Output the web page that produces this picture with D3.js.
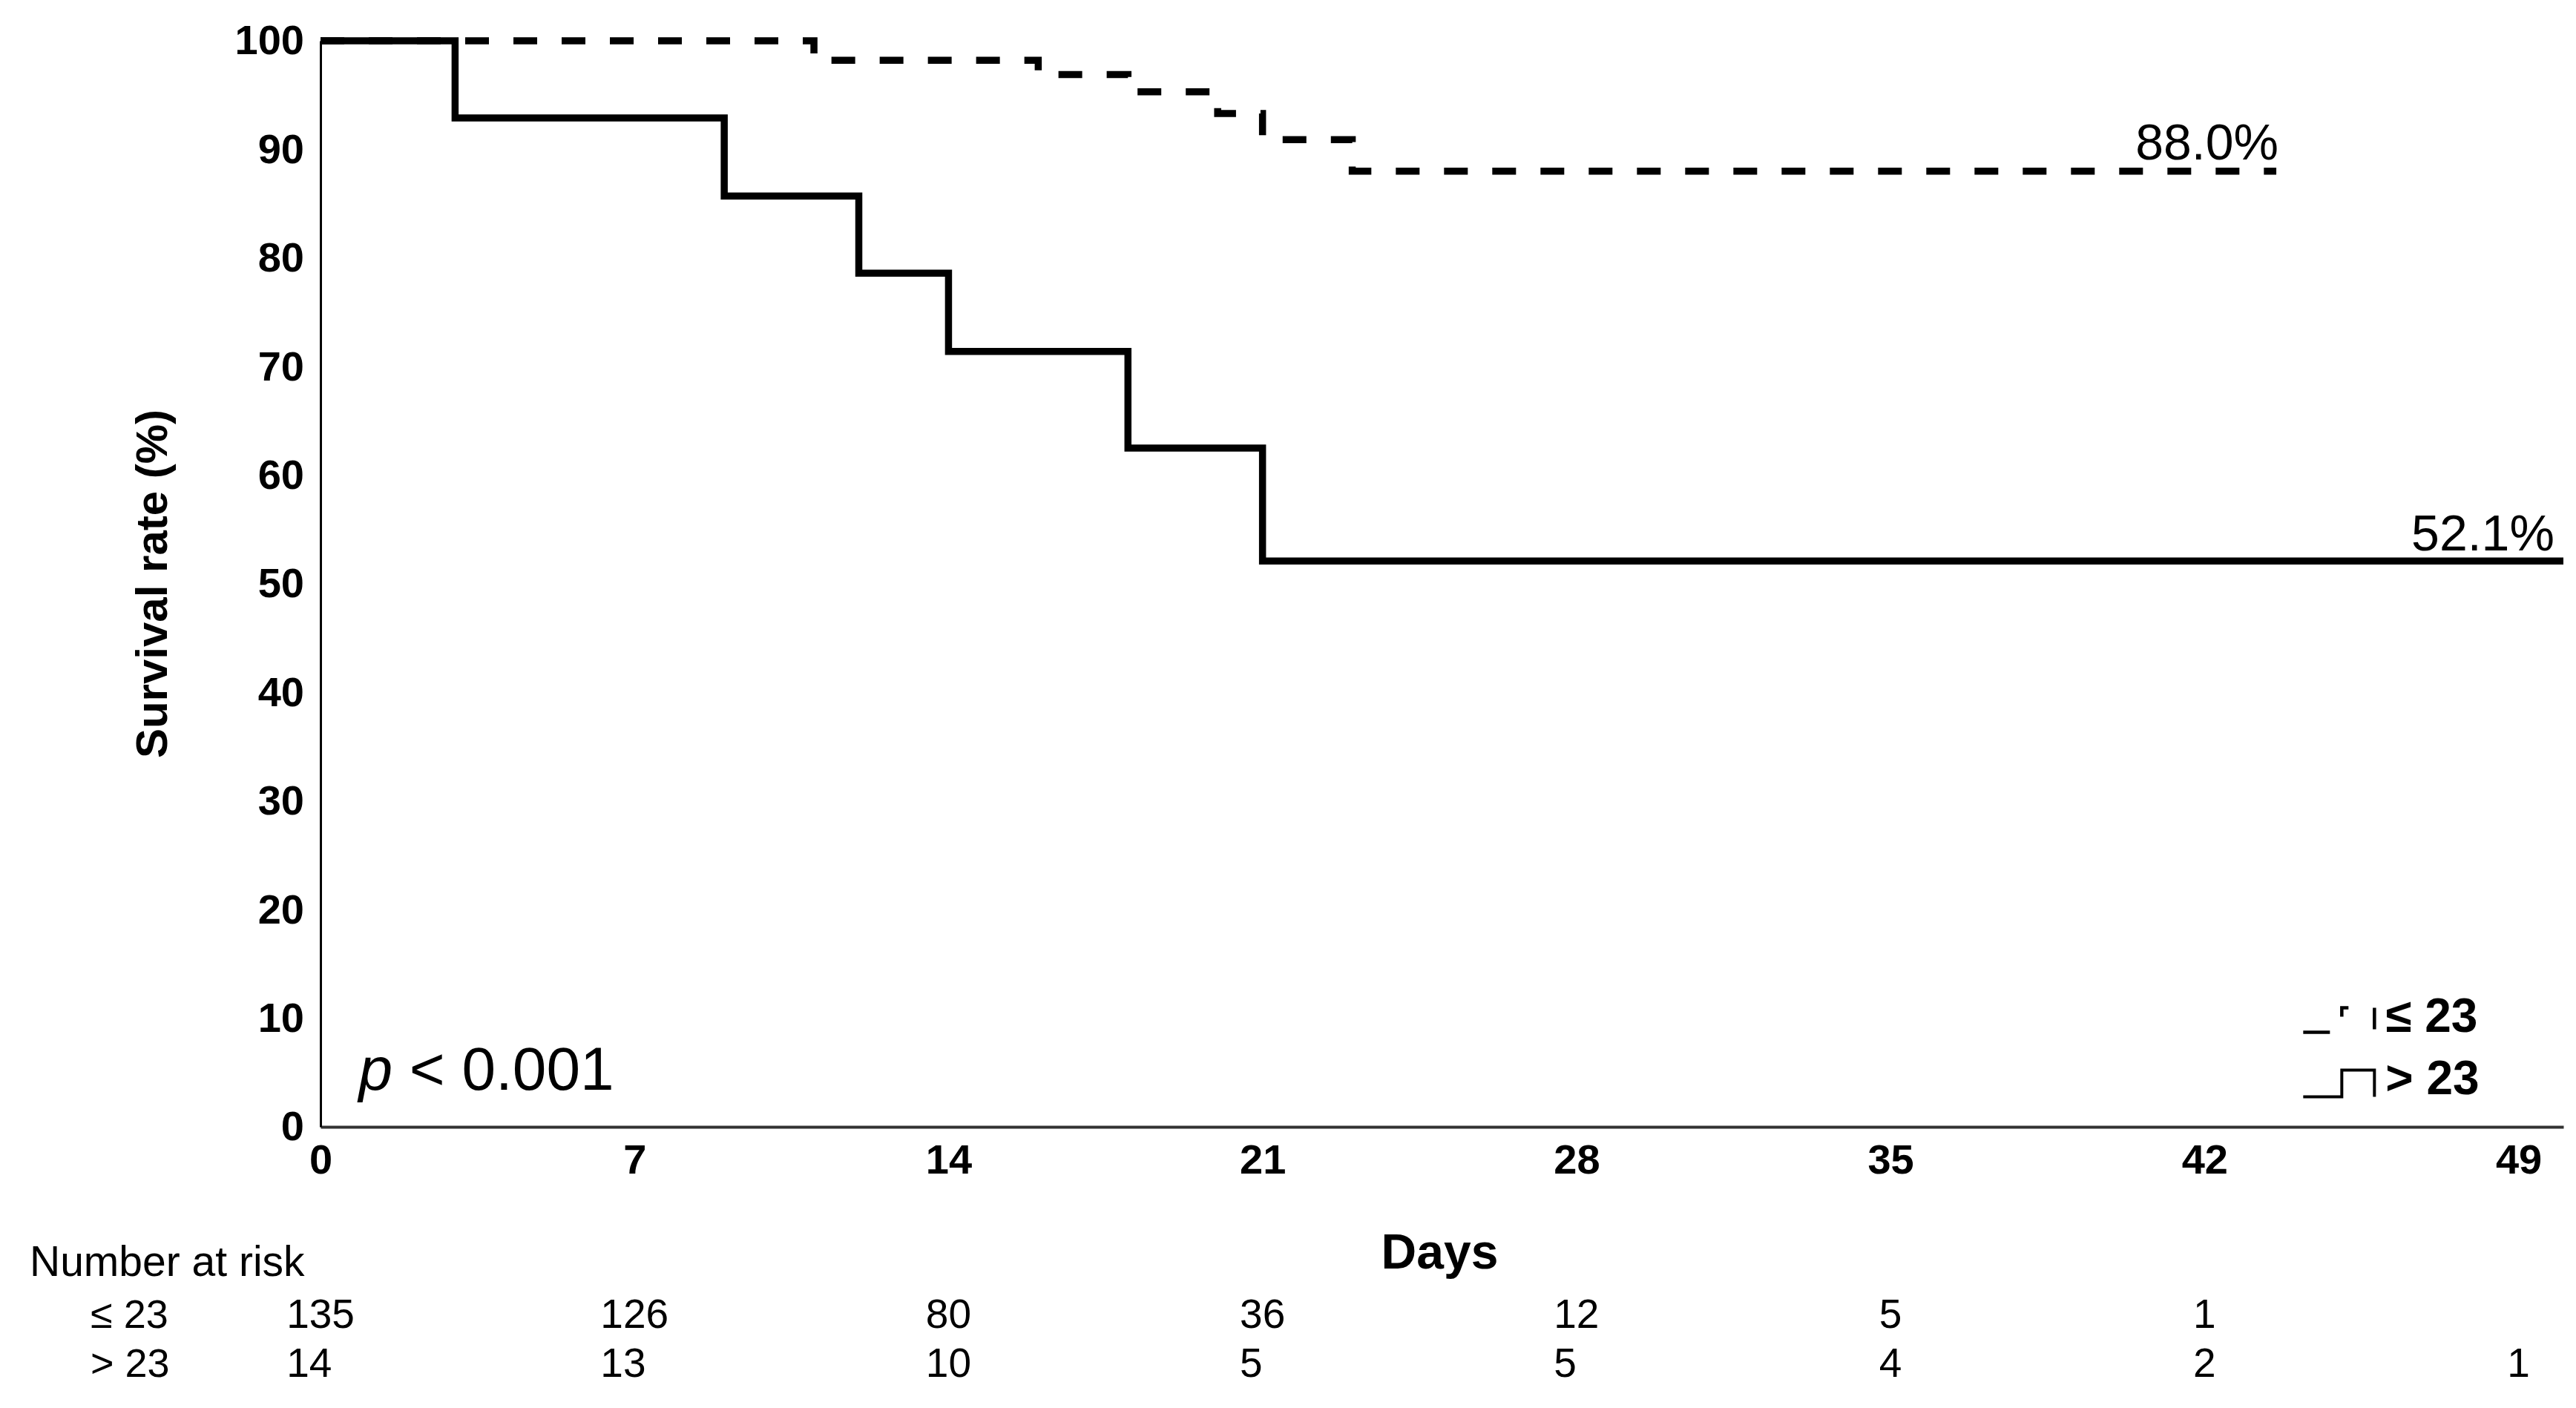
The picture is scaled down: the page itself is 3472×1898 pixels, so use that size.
<!DOCTYPE html>
<html>
<head>
<meta charset="utf-8">
<script src="https://cdn.jsdelivr.net/npm/d3@7"></script>
<style>
  body { margin: 0; background: #fff; }
  text { font-family: "Liberation Sans", Arial, sans-serif; fill: #000; }
</style>
</head>
<body>
<div id="chart"></div>
<script>
// Kaplan-Meier data
const dayTicks = [0, 7, 14, 21, 28, 35, 42, 49];
const rateTicks = [0, 10, 20, 30, 40, 50, 60, 70, 80, 90, 100];

const lowTimes = [0, 11, 16, 18, 20, 21, 23, 43.6];
const lowSurv = [100, 98.2, 96.9, 95.3, 93.3, 90.9, 88.0, 88.0];
const highTimes = [0, 3, 9, 12, 14, 18, 21, 50];
const highSurv = [100, 92.9, 85.7, 78.6, 71.4, 62.5, 52.1, 52.1];

const groupNames = ["\u2264 23", "> 23"];
const finalLabels = ["88.0%", "52.1%"];
const riskLow = [135, 126, 80, 36, 12, 5, 1, null];
const riskHigh = [14, 13, 10, 5, 5, 4, 2, 1];

const W = 3472, H = 1898;
const margin = { top: 55, right: 17, bottom: 379, left: 432 };
const width = W - margin.left - margin.right;
const height = H - margin.top - margin.bottom;

const svg = d3.select("#chart")
    .append("svg")
    .attr("width", W)
    .attr("height", H)
    .append("g")
    .attr("transform", `translate(${margin.left},${margin.top})`);

// scales
const x = d3.scaleLinear().domain([0, 50]).range([0, width]);
const y = d3.scaleLinear().domain([0, 100]).range([height, 0]);

// x axis
const xAxis = svg.append("g")
    .attr("transform", `translate(0,${height})`)
    .call(d3.axisBottom(x).tickValues(dayTicks).tickSize(0).tickSizeOuter(0).tickPadding(23));
xAxis.select(".domain").attr("stroke", "#333").attr("stroke-width", 4);
xAxis.selectAll("text")
    .style("font-size", "56px")
    .style("font-weight", "bold")
    .style("font-family", "'Liberation Sans', Arial, sans-serif");

// y axis
const yAxis = svg.append("g")
    .call(d3.axisLeft(y).tickValues(rateTicks).tickSize(0).tickSizeOuter(0).tickPadding(22));
yAxis.select(".domain").attr("stroke", "#000").attr("stroke-width", 3);
yAxis.selectAll("text")
    .style("font-size", "56px")
    .style("font-weight", "bold")
    .style("font-family", "'Liberation Sans', Arial, sans-serif");

// axis titles
svg.append("text")
    .attr("transform", `translate(${-228},${height / 2}) rotate(-90)`)
    .attr("text-anchor", "middle")
    .attr("dy", "0.35em")
    .style("font-size", "60px")
    .style("font-weight", "bold")
    .text("Survival rate (%)");

svg.append("text")
    .attr("x", x(24.95))
    .attr("y", height + 191)
    .attr("text-anchor", "middle")
    .style("font-size", "66px")
    .style("font-weight", "bold")
    .text("Days");

// survival curves
const line = d3.line()
    .x(d => x(d[0]))
    .y(d => y(d[1]))
    .curve(d3.curveStepAfter);

const lowData = lowTimes.map((t, i) => [t, lowSurv[i]]);
const highData = highTimes.map((t, i) => [t, highSurv[i]]);

svg.append("path")
    .datum(lowData)
    .attr("d", line)
    .attr("fill", "none")
    .attr("stroke", "#000")
    .attr("stroke-width", 9.5)
    .attr("stroke-dasharray", "32 33");

svg.append("path")
    .datum(highData)
    .attr("d", line)
    .attr("fill", "none")
    .attr("stroke", "#000")
    .attr("stroke-width", 9.5);

// final survival labels
svg.append("text")
    .attr("x", x(lowTimes[lowTimes.length - 1]) + 3)
    .attr("y", y(lowSurv[lowSurv.length - 1]) - 16)
    .attr("text-anchor", "end")
    .style("font-size", "68px")
    .text(finalLabels[0]);

svg.append("text")
    .attr("x", x(49.8))
    .attr("y", y(highSurv[highSurv.length - 1]) - 14)
    .attr("text-anchor", "end")
    .style("font-size", "68px")
    .text(finalLabels[1]);

// p value
const pText = svg.append("text")
    .attr("x", x(0.85))
    .attr("y", y(0) - 50)
    .style("font-size", "82px");
pText.append("tspan").style("font-style", "italic").text("p");
pText.append("tspan").text(" < 0.001");

// legend
const legend = svg.append("g")
    .attr("transform", `translate(${x(44.2)},${y(10) - 8})`);

legend.append("path")
    .attr("d", "M0,27 H52 V-6 H96 V27")
    .attr("fill", "none")
    .attr("stroke", "#000")
    .attr("stroke-width", 4.5)
    .attr("stroke-dasharray", "36 37 21 35 29 100");

legend.append("text")
    .attr("x", 111)
    .attr("y", 26)
    .style("font-size", "64px")
    .style("font-weight", "bold")
    .text(groupNames[0]);

legend.append("path")
    .attr("d", "M0,114 H52 V78 H96 V114")
    .attr("fill", "none")
    .attr("stroke", "#000")
    .attr("stroke-width", 4);

legend.append("text")
    .attr("x", 111)
    .attr("y", 110)
    .style("font-size", "64px")
    .style("font-weight", "bold")
    .text(groupNames[1]);

// number at risk table
const risk = svg.append("g")
    .attr("transform", `translate(0,${height})`);

risk.append("text")
    .attr("x", 40 - margin.left)
    .attr("y", 201)
    .style("font-size", "57px")
    .text("Number at risk");

const rows = [riskLow, riskHigh];
const rowY = [271, 337];

rows.forEach((row, r) => {
    risk.append("text")
        .attr("x", 122 - margin.left)
        .attr("y", rowY[r])
        .style("font-size", "54px")
        .text(groupNames[r]);
});

dayTicks.forEach((d, i) => {
    const top = riskLow[i];
    let left = null;
    if (top !== null) {
        const t = risk.append("text")
            .attr("x", x(d))
            .attr("y", rowY[0])
            .attr("text-anchor", "middle")
            .style("font-size", "55px")
            .text(top);
        left = x(d) - t.node().getComputedTextLength() / 2;
    }
    const b = risk.append("text")
        .attr("y", rowY[1])
        .style("font-size", "55px")
        .text(riskHigh[i]);
    if (left !== null) {
        b.attr("x", left).attr("text-anchor", "start");
    } else {
        b.attr("x", x(d)).attr("text-anchor", "middle");
    }
});
</script>
</body>
</html>
